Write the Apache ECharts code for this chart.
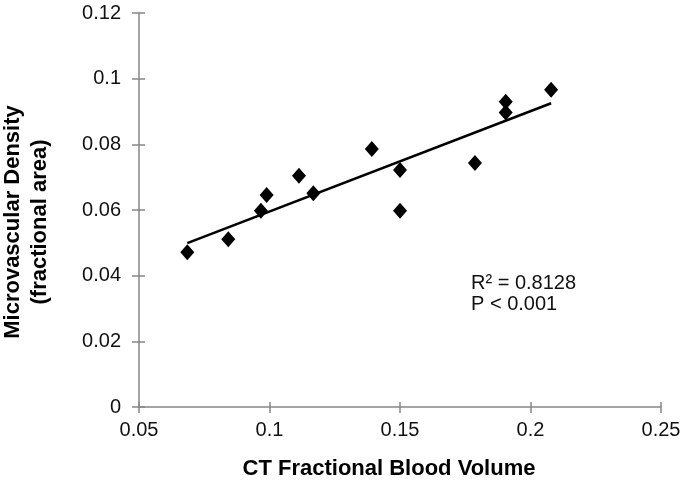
<!DOCTYPE html>
<html>
<head>
<meta charset="utf-8">
<script src="https://cdn.jsdelivr.net/npm/echarts@6/dist/echarts.min.js"></script>
<style>
html,body{margin:0;padding:0;background:#fff;}
#chart{width:685px;height:496px;}
</style>
</head>
<body>
<div id="chart"></div>
<script>
// Data
var ctBloodVolume = [0.0685, 0.0842, 0.0967, 0.0989, 0.1113, 0.1168, 0.1392, 0.150, 0.150, 0.1787, 0.1905, 0.1905, 0.2079];
var microvascularDensity = [0.0471, 0.0511, 0.0598, 0.0646, 0.0704, 0.0651, 0.0786, 0.0722, 0.0598, 0.0743, 0.0930, 0.0897, 0.0966];
var trendX = [0.0685, 0.2079];
var trendY = [0.0499, 0.0925];
var xTicks = [0.05, 0.25, 0.05];   // min, max, interval
var yTicks = [0, 0.12, 0.02];      // min, max, interval
var xTitle = 'CT Fractional Blood Volume';
var yTitle = 'Microvascular Density\n(fractional area)';
var statsText = 'R\u00B2 = 0.8128\nP < 0.001';

var scatterData = ctBloodVolume.map(function (x, i) { return [x, microvascularDensity[i]]; });
var trendData = trendX.map(function (x, i) { return [x, trendY[i]]; });

var axisGray = '#868686';
var labelFont = 'Arial, "Liberation Sans", sans-serif';

var chart = echarts.init(document.getElementById('chart'), null, {renderer: 'canvas'});
chart.setOption({
  animation: false,
  backgroundColor: '#ffffff',
  grid: {left: 139, right: 24, top: 13, bottom: 89, containLabel: false, outerBoundsMode: 'none'},
  xAxis: [{
    type: 'value', min: xTicks[0], max: xTicks[1], interval: xTicks[2],
    splitLine: {show: false},
    axisLine: {show: true, lineStyle: {color: axisGray, width: 1.5}},
    axisTick: {show: true, inside: false, length: 6, lineStyle: {color: axisGray, width: 1.5}},
    axisLabel: {color: '#111', fontSize: 20, fontFamily: labelFont, margin: 13},
    name: xTitle, nameLocation: 'middle', nameGap: 51,
    nameTextStyle: {fontSize: 22, fontWeight: 'bold', color: '#000', fontFamily: labelFont, padding: [0, 22, 0, 0]}
  }, {
    type: 'value', min: xTicks[0], max: xTicks[1], interval: xTicks[2], position: 'bottom',
    splitLine: {show: false}, axisLine: {show: false}, axisLabel: {show: false},
    axisTick: {show: true, inside: true, length: 5, lineStyle: {color: axisGray, width: 1.5}}
  }],
  yAxis: [{
    type: 'value', min: yTicks[0], max: yTicks[1], interval: yTicks[2],
    splitLine: {show: false},
    axisLine: {show: true, lineStyle: {color: axisGray, width: 1.5}},
    axisTick: {show: true, inside: false, length: 7, lineStyle: {color: axisGray, width: 1.5}},
    axisLabel: {color: '#111', fontSize: 20, fontFamily: labelFont, margin: 18},
    name: yTitle, nameLocation: 'middle', nameGap: 86, nameRotate: 90,
    nameTextStyle: {fontSize: 22, fontWeight: 'bold', color: '#000', fontFamily: labelFont, lineHeight: 27, align: 'center', padding: [0, 24, 0, 0]}
  }, {
    type: 'value', min: yTicks[0], max: yTicks[1], interval: yTicks[2], position: 'left',
    splitLine: {show: false}, axisLine: {show: false}, axisLabel: {show: false},
    axisTick: {show: true, inside: true, length: 6, lineStyle: {color: axisGray, width: 1.5}}
  }],
  series: [{
    type: 'line', data: trendData, xAxisIndex: 0, yAxisIndex: 0,
    symbol: 'none', lineStyle: {color: '#000', width: 2.5}, z: 2
  }, {
    type: 'scatter', data: scatterData, xAxisIndex: 0, yAxisIndex: 0,
    symbol: 'diamond', symbolSize: [14, 16], itemStyle: {color: '#000', opacity: 1}, z: 3
  }],
  graphic: [{
    type: 'text', left: 471, top: 273,
    style: {text: statsText, fontSize: 20, lineHeight: 21, fill: '#111', font: '20px ' + labelFont}
  }]
});
</script>
</body>
</html>
